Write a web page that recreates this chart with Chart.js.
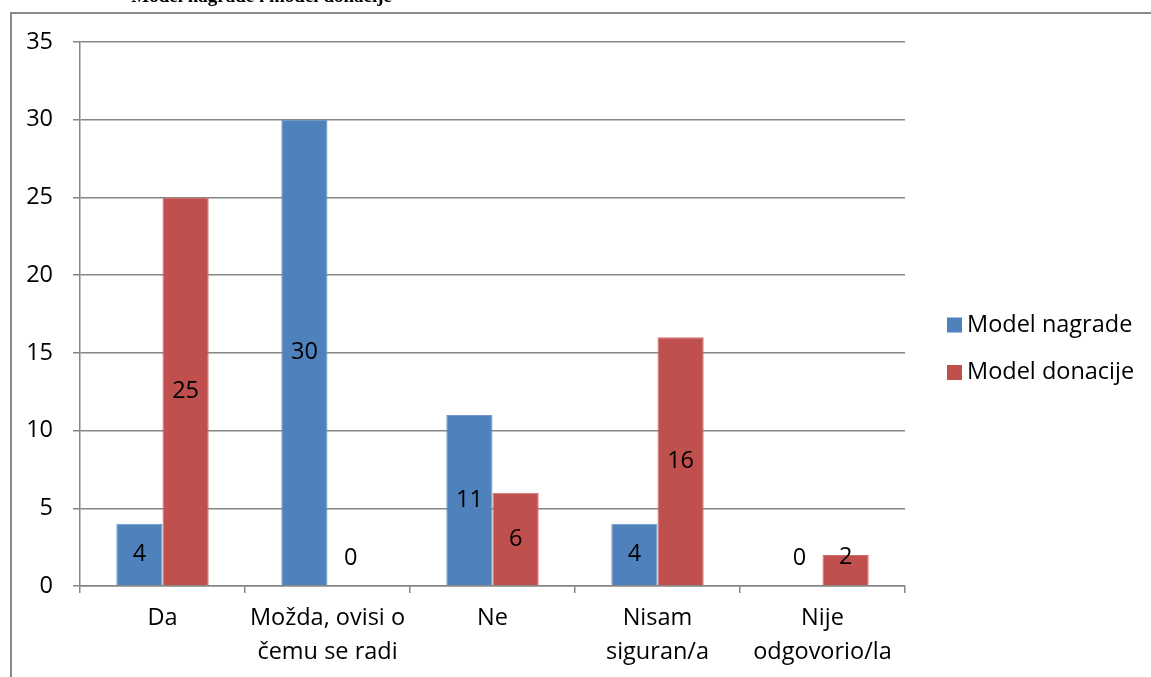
<!DOCTYPE html>
<html>
<head>
<meta charset="utf-8">
<script src="https://cdn.jsdelivr.net/npm/chart.js@4/dist/chart.umd.min.js"></script>
<style>
  html, body { margin: 0; padding: 0; background: #fff; }
  canvas { display: block; }
</style>
</head>
<body>
<canvas id="c" width="1151" height="677"></canvas>
<script>
// Survey answers per model
const categories = [
  ["Da"],
  ["Možda, ovisi o", "čemu se radi"],
  ["Ne"],
  ["Nisam", "siguran/a"],
  ["Nije", "odgovorio/la"]
];
const seriesNames = ["Model nagrade", "Model donacije"];
const modelNagrade = [4, 30, 11, 4, 0];
const modelDonacije = [25, 0, 6, 16, 2];
const yTicks = [0, 5, 10, 15, 20, 25, 30, 35];
const titleText = "Model nagrade i model donacije";

const FONT = '"Open Sans", "Noto Sans", sans-serif';
const FSIZE = 23.5;
const GRID = '#868686';

// Frame and the (partly clipped) heading above it
const framePlugin = {
  id: 'frame',
  beforeDraw(chart) {
    const ctx = chart.ctx;
    ctx.save();
    ctx.fillStyle = '#fff';
    ctx.fillRect(0, 0, chart.width, chart.height);
    ctx.strokeStyle = '#8a8a8a';
    ctx.lineWidth = 2;
    ctx.strokeRect(11, 13, chart.width + 20, chart.height + 20);
    ctx.fillStyle = '#000';
    ctx.font = 'bold 19px "Liberation Serif", serif';
    ctx.textAlign = 'right';
    ctx.textBaseline = 'alphabetic';
    ctx.fillText(titleText, 392, 2);
    ctx.restore();
  }
};

// Value labels inside the bars
const valueLabels = {
  id: 'valueLabels',
  afterDatasetsDraw(chart) {
    const ctx = chart.ctx;
    ctx.save();
    ctx.font = FSIZE + 'px ' + FONT;
    ctx.fillStyle = '#000';
    ctx.textAlign = 'center';
    ctx.textBaseline = 'middle';
    chart.data.datasets.forEach((ds, i) => {
      const meta = chart.getDatasetMeta(i);
      meta.data.forEach((bar, j) => {
        const mid = (bar.y + bar.base) / 2;
        const y = Math.min(mid, bar.base - 28);
        ctx.fillText(String(ds.data[j]), bar.x, y);
      });
    });
    ctx.restore();
  }
};

// Legend on the right
const sideLegend = {
  id: 'sideLegend',
  afterDraw(chart) {
    const ctx = chart.ctx;
    ctx.save();
    ctx.font = FSIZE + 'px ' + FONT;
    ctx.textAlign = 'left';
    ctx.textBaseline = 'middle';
    chart.data.datasets.forEach((ds, i) => {
      const y = 325 + i * 47.5;
      ctx.fillStyle = ds.backgroundColor;
      ctx.fillRect(947, y - 7.5, 15, 15);
      ctx.fillStyle = '#000';
      ctx.fillText(ds.label, 967, y);
    });
    ctx.restore();
  }
};

new Chart(document.getElementById('c'), {
  type: 'bar',
  data: {
    labels: categories,
    datasets: [
      { label: seriesNames[0], data: modelNagrade, backgroundColor: '#4F81BD',
        borderColor: '#6f97cb', borderWidth: 1 },
      { label: seriesNames[1], data: modelDonacije, backgroundColor: '#C0504D',
        borderColor: '#cf6d6a', borderWidth: 1 }
    ]
  },
  options: {
    responsive: false,
    animation: false,
    devicePixelRatio: 1,
    layout: { padding: { left: 0, right: 246, top: 42, bottom: 0 } },
    datasets: { bar: { categoryPercentage: 0.56, barPercentage: 1 } },
    plugins: {
      legend: { display: false },
      tooltip: { enabled: false }
    },
    scales: {
      x: {
        grid: { display: true, drawOnChartArea: false, drawTicks: true,
                tickLength: 7, color: GRID, lineWidth: 1.5, offset: true },
        border: { display: true, color: GRID, width: 1.5 },
        ticks: { color: '#000', font: { family: FONT, size: FSIZE, lineHeight: 1.45 },
                 padding: 8, maxRotation: 0, autoSkip: false },
        afterFit(scale) { scale.height = 91; }
      },
      y: {
        min: 0, max: 35,
        afterBuildTicks(scale) { scale.ticks = yTicks.map(v => ({ value: v })); },
        grid: { color: GRID, lineWidth: 1.5, tickLength: 7, drawTicks: true },
        border: { display: true, color: GRID, width: 1.5 },
        ticks: { color: '#000', font: { family: FONT, size: FSIZE }, padding: 20 },
        afterFit(scale) { scale.width = 80; }
      }
    }
  },
  plugins: [framePlugin, valueLabels, sideLegend]
});
</script>
</body>
</html>
